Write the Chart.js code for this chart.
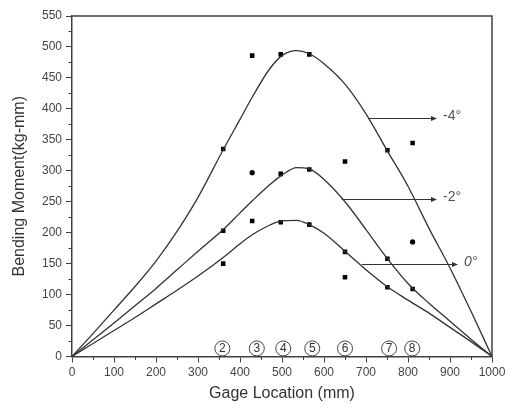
<!DOCTYPE html>
<html>
<head>
<meta charset="utf-8">
<script src="https://cdn.jsdelivr.net/npm/chart.js@4.4.0/dist/chart.umd.min.js"></script>
<style>
  html, body { margin: 0; padding: 0; background: #fff; }
  #wrap { width: 510px; height: 411px; }
</style>
</head>
<body>
<div id="wrap"><canvas id="c" width="510" height="411"></canvas></div>
<script>
// ---- data ----
const curveX    = [0, 50, 100, 150, 200, 250, 300, 360, 400, 430, 470, 500, 535, 565, 600, 650, 700, 750, 800, 850, 900, 950, 1000];
const fitMinus4 = [0, 37, 75, 113, 154, 202, 257, 334, 383, 420, 464, 486, 494, 489, 473, 440, 392, 333, 275, 207, 143, 73, 0];
const fitMinus2 = [0, 27, 54, 82, 110, 140, 170, 205, 232, 252, 277, 293, 305, 303, 286, 250, 205, 159, 118, 86, 57, 28, 0];
const fitZero   = [0, 21, 42, 63, 85, 107, 130, 160, 182, 197, 212, 219, 220, 213, 199, 170, 140, 113, 91, 70, 47, 24, 0];

const gageX      = [360, 429, 497, 565, 650, 751, 811];
const measMinus4 = [335, 486, 488, 488, 315, 333, 345];
const measMinus2 = [203, 297, 295, 302, 169, 158, 185];
const measZero   = [150, 219, 217, 213, 128, 112, 109];

const gageNumbers = ['2', '3', '4', '5', '6', '7', '8'];
const gageNumberX = [358, 440, 503, 572, 650, 755, 810];
const gageNumberY = 13;

const arrowLabels = ['-4°', '-2°', '0°'];
const arrowY      = [385, 254, 149];
const arrowFromX  = [705, 642, 690];
const arrowToX    = [869, 869, 919];

const xMin = 0, xMax = 1000, xStep = 100, xMinor = 50;
const yMin = 0, yMax = 550, yStep = 50, yMinor = 25;

const xTitle = 'Gage Location (mm)';
const yTitle = 'Bending Moment(kg-mm)';

// ---- helpers ----
const pts = (xs, ys) => xs.map((x, i) => ({ x: x, y: ys[i] }));
const FONT = 'Arial, "Liberation Sans", sans-serif';
const AXIS = '#404040';

const decor = {
  id: 'decor',
  afterDraw(chart) {
    const { ctx, chartArea: a, scales: { x, y } } = chart;
    ctx.save();
    // frame top/right
    ctx.strokeStyle = AXIS;
    ctx.lineWidth = 1.5;
    ctx.beginPath();
    ctx.moveTo(a.left, a.top);
    ctx.lineTo(a.right, a.top);
    ctx.lineTo(a.right, a.bottom);
    ctx.stroke();
    // minor ticks
    ctx.lineWidth = 1;
    ctx.beginPath();
    for (let v = xMin + xMinor; v < xMax; v += xStep) {
      const px = Math.round(x.getPixelForValue(v)) + 0.5;
      ctx.moveTo(px, a.bottom);
      ctx.lineTo(px, a.bottom + 3.5);
    }
    for (let v = yMin + yMinor; v < yMax; v += yStep) {
      const py = Math.round(y.getPixelForValue(v)) + 0.5;
      ctx.moveTo(a.left, py);
      ctx.lineTo(a.left - 3.5, py);
    }
    ctx.stroke();
    // arrows with labels
    ctx.strokeStyle = '#333';
    ctx.fillStyle = '#333';
    ctx.lineWidth = 1;
    arrowLabels.forEach((lab, i) => {
      const py = Math.round(y.getPixelForValue(arrowY[i])) + 0.5;
      const x0 = x.getPixelForValue(arrowFromX[i]);
      const x1 = x.getPixelForValue(arrowToX[i]);
      ctx.beginPath();
      ctx.moveTo(x0, py);
      ctx.lineTo(x1 - 4, py);
      ctx.stroke();
      ctx.beginPath();
      ctx.moveTo(x1, py);
      ctx.lineTo(x1 - 6, py - 2.5);
      ctx.lineTo(x1 - 6, py + 2.5);
      ctx.closePath();
      ctx.fill();
      ctx.fillStyle = '#555';
      ctx.font = (i === 2 ? 'italic ' : '') + '14px ' + FONT;
      ctx.textAlign = 'left';
      ctx.textBaseline = 'middle';
      ctx.fillText(lab, x1 + 6, py - 2);
      ctx.fillStyle = '#333';
    });
    // circled gage numbers
    const cy = y.getPixelForValue(gageNumberY);
    ctx.font = '12px ' + FONT;
    ctx.textAlign = 'center';
    ctx.textBaseline = 'middle';
    gageNumbers.forEach((n, i) => {
      const cx = x.getPixelForValue(gageNumberX[i]);
      ctx.beginPath();
      ctx.arc(cx, cy, 7.5, 0, Math.PI * 2);
      ctx.strokeStyle = '#444';
      ctx.lineWidth = 1;
      ctx.stroke();
      ctx.fillStyle = '#333';
      ctx.fillText(n, cx, cy + 0.5);
    });
    ctx.restore();
  }
};

const curveStyle = {
  showLine: true, pointRadius: 0, borderColor: '#333', borderWidth: 1.3,
  cubicInterpolationMode: 'monotone', fill: false
};
const markStyle = {
  showLine: false, pointRadius: 3.2, pointBackgroundColor: '#000', pointBorderColor: '#000',
  pointBorderWidth: 0, pointStyle: 'rect'
};

new Chart(document.getElementById('c'), {
  type: 'scatter',
  data: {
    datasets: [
      Object.assign({ label: '-4° fit', data: pts(curveX, fitMinus4) }, curveStyle),
      Object.assign({ label: '-2° fit', data: pts(curveX, fitMinus2) }, curveStyle),
      Object.assign({ label: '0° fit',  data: pts(curveX, fitZero) }, curveStyle),
      Object.assign({ label: '-4°', data: pts(gageX, measMinus4) }, markStyle),
      Object.assign({ label: '-2°', data: pts(gageX, measMinus2) }, markStyle,
        { pointStyle: ['rect', 'circle', 'rect', 'rect', 'rect', 'rect', 'circle'],
          pointRadius: [3.2, 2.6, 3.2, 3.2, 3.2, 3.2, 2.6] }),
      Object.assign({ label: '0°', data: pts(gageX, measZero) }, markStyle)
    ]
  },
  options: {
    responsive: false,
    animation: false,
    devicePixelRatio: 1,
    layout: { padding: { left: 6, right: 18, top: 16, bottom: 4 } },
    plugins: { legend: { display: false }, tooltip: { enabled: false } },
    scales: {
      x: {
        type: 'linear', position: 'bottom', min: xMin, max: xMax,
        ticks: { stepSize: xStep, color: '#444', font: { family: FONT, size: 12 }, padding: 3, maxRotation: 0,
                 callback: v => String(v) },
        grid: { drawOnChartArea: false, tickLength: 6, color: AXIS, tickWidth: 1 },
        border: { color: AXIS, width: 1.5 },
        title: { display: true, text: xTitle, color: '#333', font: { family: FONT, size: 16 }, padding: { top: 0, bottom: 4 } },
        afterFit(s) { s.height = 50.5; }
      },
      y: {
        type: 'linear', position: 'left', min: yMin, max: yMax,
        ticks: { stepSize: yStep, color: '#444', font: { family: FONT, size: 12 }, padding: 4,
                 callback: v => String(v) },
        grid: { drawOnChartArea: false, tickLength: 6, color: AXIS, tickWidth: 1 },
        border: { color: AXIS, width: 1.5 },
        title: { display: true, text: yTitle, color: '#333', font: { family: FONT, size: 16 }, padding: { top: 4, bottom: 0 } },
        afterFit(s) { s.width = 66; }
      }
    }
  },
  plugins: [decor]
});
</script>
</body>
</html>
